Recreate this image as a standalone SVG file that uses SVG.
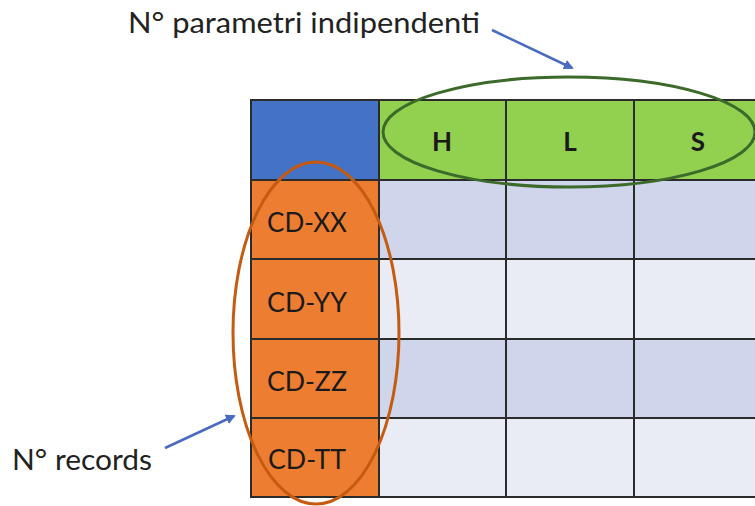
<svg xmlns="http://www.w3.org/2000/svg" width="755" height="506" viewBox="0 0 755 506">
<defs>
<style>
.cell{stroke:#2b2b2b;stroke-width:2}
.lbl{font-family:Lato,"Liberation Sans",Arial,sans-serif;font-size:27px;fill:#1a1a1a;text-anchor:middle}
.hdr{font-family:Lato,"Liberation Sans",Arial,sans-serif;font-size:26px;font-weight:bold;fill:#1a1a1a;text-anchor:middle}
.note{font-family:Lato,"Liberation Sans",Arial,sans-serif;font-size:28px;fill:#222}
.arr{stroke:#4a6cc0;stroke-width:2.5;fill:none}
</style>
<marker id="ah" viewBox="0 0 10 10" refX="8" refY="5" markerWidth="4" markerHeight="4" orient="auto">
<path d="M0,0 L10,5 L0,10 z" fill="#4a6cc0"/>
</marker>
</defs>
<rect width="755" height="506" fill="#fff"/>
<g id="table">
<rect class="cell" x="251" y="100" width="128" height="80" fill="#4472c4"/>
<rect class="cell" x="379" y="100" width="127" height="80" fill="#92d050"/>
<rect class="cell" x="506" y="100" width="128" height="80" fill="#92d050"/>
<rect class="cell" x="634" y="100" width="130" height="80" fill="#92d050"/>
<rect class="cell" x="251" y="180" width="128" height="79" fill="#ed7d31"/>
<rect class="cell" x="251" y="259" width="128" height="80" fill="#ed7d31"/>
<rect class="cell" x="251" y="339" width="128" height="79" fill="#ed7d31"/>
<rect class="cell" x="251" y="418" width="128" height="79" fill="#ed7d31"/>
<rect class="cell" x="379" y="180" width="127" height="79" fill="#cfd5ea"/>
<rect class="cell" x="506" y="180" width="128" height="79" fill="#cfd5ea"/>
<rect class="cell" x="634" y="180" width="130" height="79" fill="#cfd5ea"/>
<rect class="cell" x="379" y="259" width="127" height="80" fill="#e9ebf5"/>
<rect class="cell" x="506" y="259" width="128" height="80" fill="#e9ebf5"/>
<rect class="cell" x="634" y="259" width="130" height="80" fill="#e9ebf5"/>
<rect class="cell" x="379" y="339" width="127" height="79" fill="#cfd5ea"/>
<rect class="cell" x="506" y="339" width="128" height="79" fill="#cfd5ea"/>
<rect class="cell" x="634" y="339" width="130" height="79" fill="#cfd5ea"/>
<rect class="cell" x="379" y="418" width="127" height="79" fill="#e9ebf5"/>
<rect class="cell" x="506" y="418" width="128" height="79" fill="#e9ebf5"/>
<rect class="cell" x="634" y="418" width="130" height="79" fill="#e9ebf5"/>
<text class="hdr" x="442" y="151">H</text>
<text class="hdr" x="570" y="151">L</text>
<text class="hdr" x="698" y="151">S</text>
<text class="lbl" x="307" y="232" textLength="80" lengthAdjust="spacingAndGlyphs">CD-XX</text>
<text class="lbl" x="307" y="312" textLength="80" lengthAdjust="spacingAndGlyphs">CD-YY</text>
<text class="lbl" x="307" y="391" textLength="80" lengthAdjust="spacingAndGlyphs">CD-ZZ</text>
<text class="lbl" x="307" y="469" textLength="78" lengthAdjust="spacingAndGlyphs">CD-TT</text>
</g>
<g id="params">
<ellipse cx="569" cy="132" rx="186" ry="55" fill="none" stroke="#3b6a2a" stroke-width="3"/>
<text class="note" x="128" y="33" textLength="352" lengthAdjust="spacingAndGlyphs">N° parametri indipendenti</text>
</g>
<g id="records">
<ellipse cx="316" cy="333" rx="83" ry="171" fill="none" stroke="#c55a11" stroke-width="3"/>
<text class="note" x="12" y="470" textLength="140" lengthAdjust="spacingAndGlyphs">N° records</text>
</g>
<g id="connectors">
<line class="arr" x1="492" y1="30" x2="572" y2="68" marker-end="url(#ah)"/>
<line class="arr" x1="165" y1="448" x2="234" y2="416" marker-end="url(#ah)"/>
</g>
</svg>
